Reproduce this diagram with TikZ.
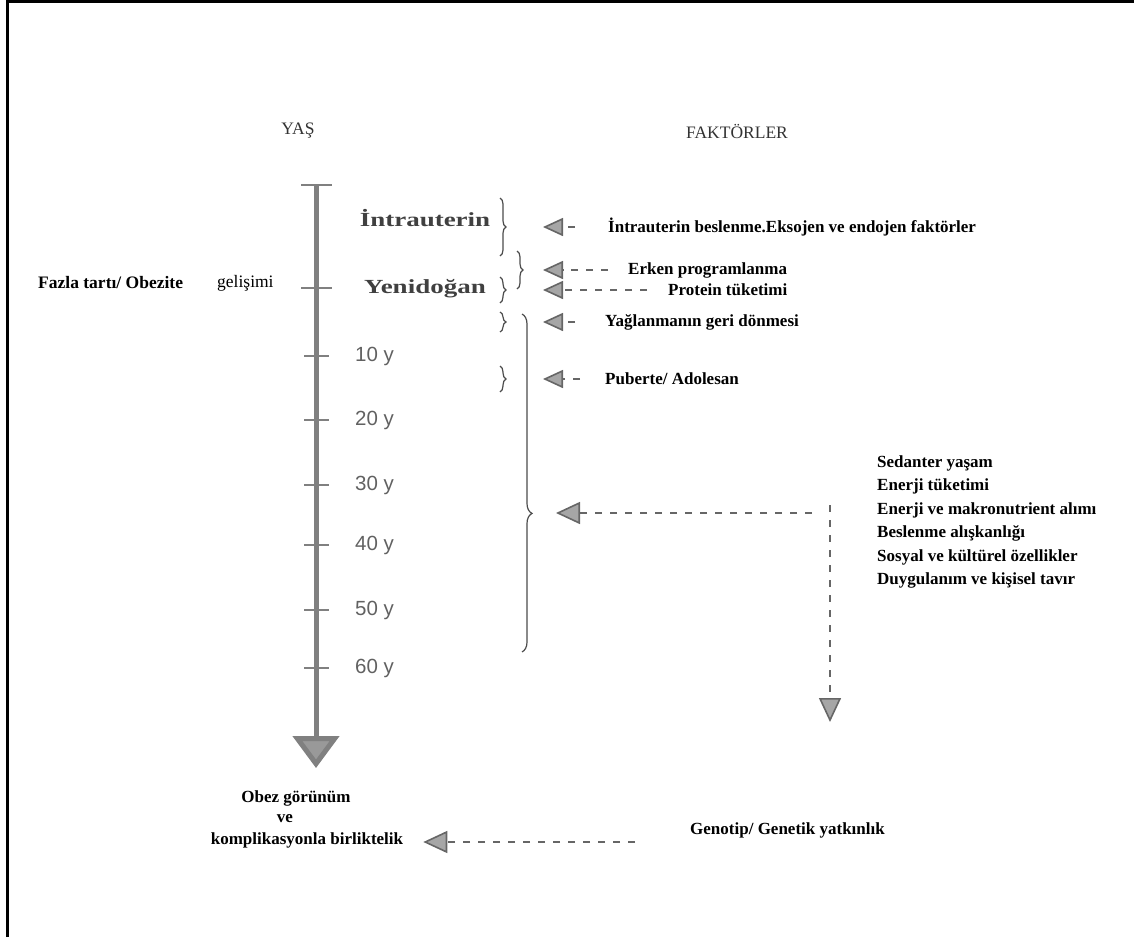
\documentclass[tikz,border=0pt]{standalone}
\usepackage{fontspec}
\setmainfont{Liberation Serif}
\setsansfont{Liberation Sans}
\newfontfamily\genisfont[FakeStretch=1.35]{Liberation Serif}
\usetikzlibrary{arrows.meta,decorations.pathreplacing}
\tikzset{every node/.style={inner sep=0pt},
         baslik/.style={font=\fontsize{17.5}{18}\selectfont, text=black!80},
         donem/.style={font=\genisfont\fontsize{20}{20}\selectfont\bfseries, text=black!75},
         yas/.style={font=\sffamily\fontsize{20.5}{20}\selectfont, text=black!62, anchor=west},
         faktor/.style={font=\fontsize{17}{20}\selectfont\bfseries, anchor=west},
         eksen/.style={draw=black!50, line width=5pt, -{Triangle[width=46pt,length=32pt,fill=black!40]}},
         centik/.style={draw=black!50, line width=1.3pt},
         kume/.style={decorate, decoration={brace, amplitude=6pt}, draw=black!70, line width=1.2pt},
         ok/.style={draw=black!60, line width=1.6pt, dash pattern=on 7pt off 8pt,
                    -{Triangle[width=18pt,length=20pt,fill=black!35]}},
         buyukok/.style={ok, -{Triangle[width=22pt,length=24pt,fill=black!35]}}
}
\begin{document}
\begin{tikzpicture}[x=1pt,y=-1pt]
\useasboundingbox (0,0) rectangle (1134,937);
\draw[line width=3pt] (7,937) -- (7,1.5) -- (1134,1.5);

\node[baslik] (yasbaslik) at (298,131) {YAŞ};
\node[baslik] (faktorbaslik) at (737,131) {FAKTÖRLER};

\coordinate (ust) at (316,185);
\coordinate (alt) at (316,768);
\draw[eksen] (ust) -- (alt);
\draw[centik, line width=2pt] (301,185) -- (332,185);
\draw[centik, line width=2pt] (301,288) -- (332,288);
\foreach \y/\a in {356/10,420/20,485/30,545/40,610/50,668/60}{
  \draw[centik] (304,\y) -- (329,\y);
  \node[yas] (yas\a) at (355,\y) {\a\ y};
}

\node[font=\fontsize{17.5}{20}\selectfont\bfseries, anchor=west] (fazla) at (38,283) {Fazla tartı/ Obezite};
\node[font=\fontsize{17.5}{20}\selectfont, anchor=west] (gelisim) at (217,283) {gelişimi};

\node[donem] (intra) at (425,218) {İntrauterin};
\node[donem] (yeni) at (425,289) {Yenidoğan};

\draw[kume] (500,198) -- (500,256);
\coordinate (k1) at (508,227);
\draw[kume] (517,251) -- (517,289);
\coordinate (k2) at (525,270);
\draw[kume] (500,277) -- (500,303);
\coordinate (k3) at (508,290);
\draw[kume] (500,312) -- (500,332);
\coordinate (k4) at (508,322);
\draw[kume] (500,366) -- (500,392);
\coordinate (k5) at (508,379);
\draw[kume, decoration={brace, amplitude=10pt, aspect=0.59}] (522,314) -- (522,652);
\coordinate (k6) at (532,513);

\node[faktor] (t1) at (608,227) {İntrauterin beslenme.Eksojen ve endojen faktörler};
\node[faktor] (t2) at (628,270) {Erken programlanma};
\node[faktor] (t3) at (668,290) {Protein tüketimi};
\node[faktor] (t4) at (605,322) {Yağlanmanın geri dönmesi};
\node[faktor] (t5) at (605,379) {Puberte/ Adolesan};

\draw[ok] ([xshift=-33pt]t1.west) -- ([xshift=35pt]k1);
\draw[ok] ([xshift=-20pt]t2.west) -- ([xshift=18pt]k2);
\draw[ok] ([xshift=-21pt]t3.west) -- ([xshift=35pt]k3);
\draw[ok] ([xshift=-30pt]t4.west) -- ([xshift=35pt]k4);
\draw[ok] ([xshift=-25pt]t5.west) -- ([xshift=35pt]k5);

\foreach \i/\s in {0/Sedanter yaşam,1/Enerji tüketimi,2/Enerji ve makronutrient alımı,
                   3/Beslenme alışkanlığı,4/Sosyal ve kültürel özellikler,5/Duygulanım ve kişisel tavır}{
  \node[faktor] (ys\i) at (877,{463+23.5*\i}) {\s};
}
\coordinate (yatay) at (812,513);
\coordinate (dikey) at (830,505);
\coordinate (dikeyson) at (830,722);
\draw[buyukok] (yatay) -- ([xshift=24pt]k6);
\draw[buyukok] (dikey) -- (dikeyson);

\node[faktor, anchor=center] (obez) at (296,798) {Obez görünüm};
\node[faktor, anchor=center] (ve) at (285,819) {ve};
\node[faktor, anchor=center] (kompl) at (307,840) {komplikasyonla birliktelik};
\node[faktor] (geno) at (690,830) {Genotip/ Genetik yatkınlık};
\coordinate (genook) at (635,842);
\draw[buyukok] (genook) -- ([xshift=20pt]kompl.east |- genook);

\end{tikzpicture}
\end{document}
